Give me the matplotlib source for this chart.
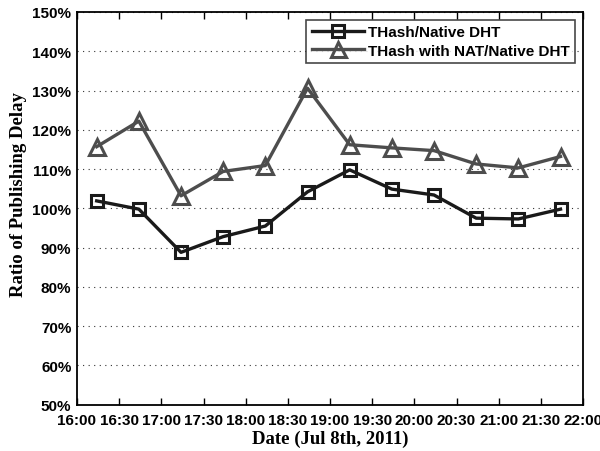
import matplotlib
matplotlib.use("Agg")
import matplotlib.pyplot as plt
from matplotlib.ticker import FixedLocator

# minutes after 16:00
times_min = [14, 44, 74, 104, 134, 164, 194, 224, 254, 284, 314, 344]
thash = [101.9, 99.8, 88.8, 92.8, 95.5, 104.2, 109.8, 104.9, 103.4, 97.5, 97.3, 99.8]
thash_nat = [115.7, 122.2, 103.2, 109.4, 110.9, 130.6, 116.2, 115.4, 114.7, 111.3, 110.3, 113.2]
xtick_labels = ["16:00", "16:30", "17:00", "17:30", "18:00", "18:30", "19:00",
                "19:30", "20:00", "20:30", "21:00", "21:30", "22:00"]
ytick_vals = [50, 60, 70, 80, 90, 100, 110, 120, 130, 140, 150]

W, H = 600, 452
fig = plt.figure(figsize=(6, 4.52), dpi=100)
ax = fig.add_axes([77/W, 1-405.7/H, (583-77)/W, (405.7-13)/H])

ax.plot(times_min, thash, color="#1a1a1a", lw=2.4, marker="s", ms=9,
        mfc="none", mec="#1a1a1a", mew=2.2, label="THash/Native DHT", zorder=3)
ax.plot(times_min, thash_nat, color="#4d4d4d", lw=2.4, marker="^", ms=12,
        mfc="none", mec="#4d4d4d", mew=2.2, label="THash with NAT/Native DHT", zorder=3)

ax.set_xlim(0, 360)
ax.set_ylim(50, 150)
ax.xaxis.set_major_locator(FixedLocator([30*i for i in range(13)]))
ax.set_xticklabels(xtick_labels)
ax.set_yticks(ytick_vals)
ax.set_yticklabels([f"{v}%" for v in ytick_vals])

ax.tick_params(axis="x", direction="in", length=5, width=1, pad=6,
               top=True, labelsize=11)
ax.tick_params(axis="y", length=0, pad=4, labelsize=11)
for lab in ax.get_xticklabels() + ax.get_yticklabels():
    lab.set_fontfamily("Liberation Sans")
    lab.set_fontweight("bold")

ax.grid(axis="y", linestyle=(0, (1, 4)), color="#333333", lw=0.8)
for s in ax.spines.values():
    s.set_linewidth(1.3)

ax.set_xlabel("Date (Jul 8th, 2011)", family="Liberation Serif", weight="bold",
              size=13.5)
ax.set_ylabel("Ratio of Publishing Delay", family="Liberation Serif",
              weight="bold", size=13.5)
# position labels (axes coordinates)
ax.xaxis.set_label_coords((330 - 77) / (583 - 77), (405.7 - 439) / (405.7 - 13))
ax.yaxis.set_label_coords((19 - 77) / (583 - 77), (405.7 - 195) / (405.7 - 13))
ax.xaxis.label.set_va("center")
ax.yaxis.label.set_va("center")

leg = ax.legend(loc="upper right", prop=dict(family="Liberation Sans", weight="bold", size=11),
                frameon=True, fancybox=False, edgecolor="#1a1a1a",
                borderpad=0.35, labelspacing=0.3, handlelength=3.4,
                handletextpad=0.3, borderaxespad=0.5, markerscale=0.9)
leg.get_frame().set_linewidth(1.2)

fig.savefig("out.png", dpi=100)
